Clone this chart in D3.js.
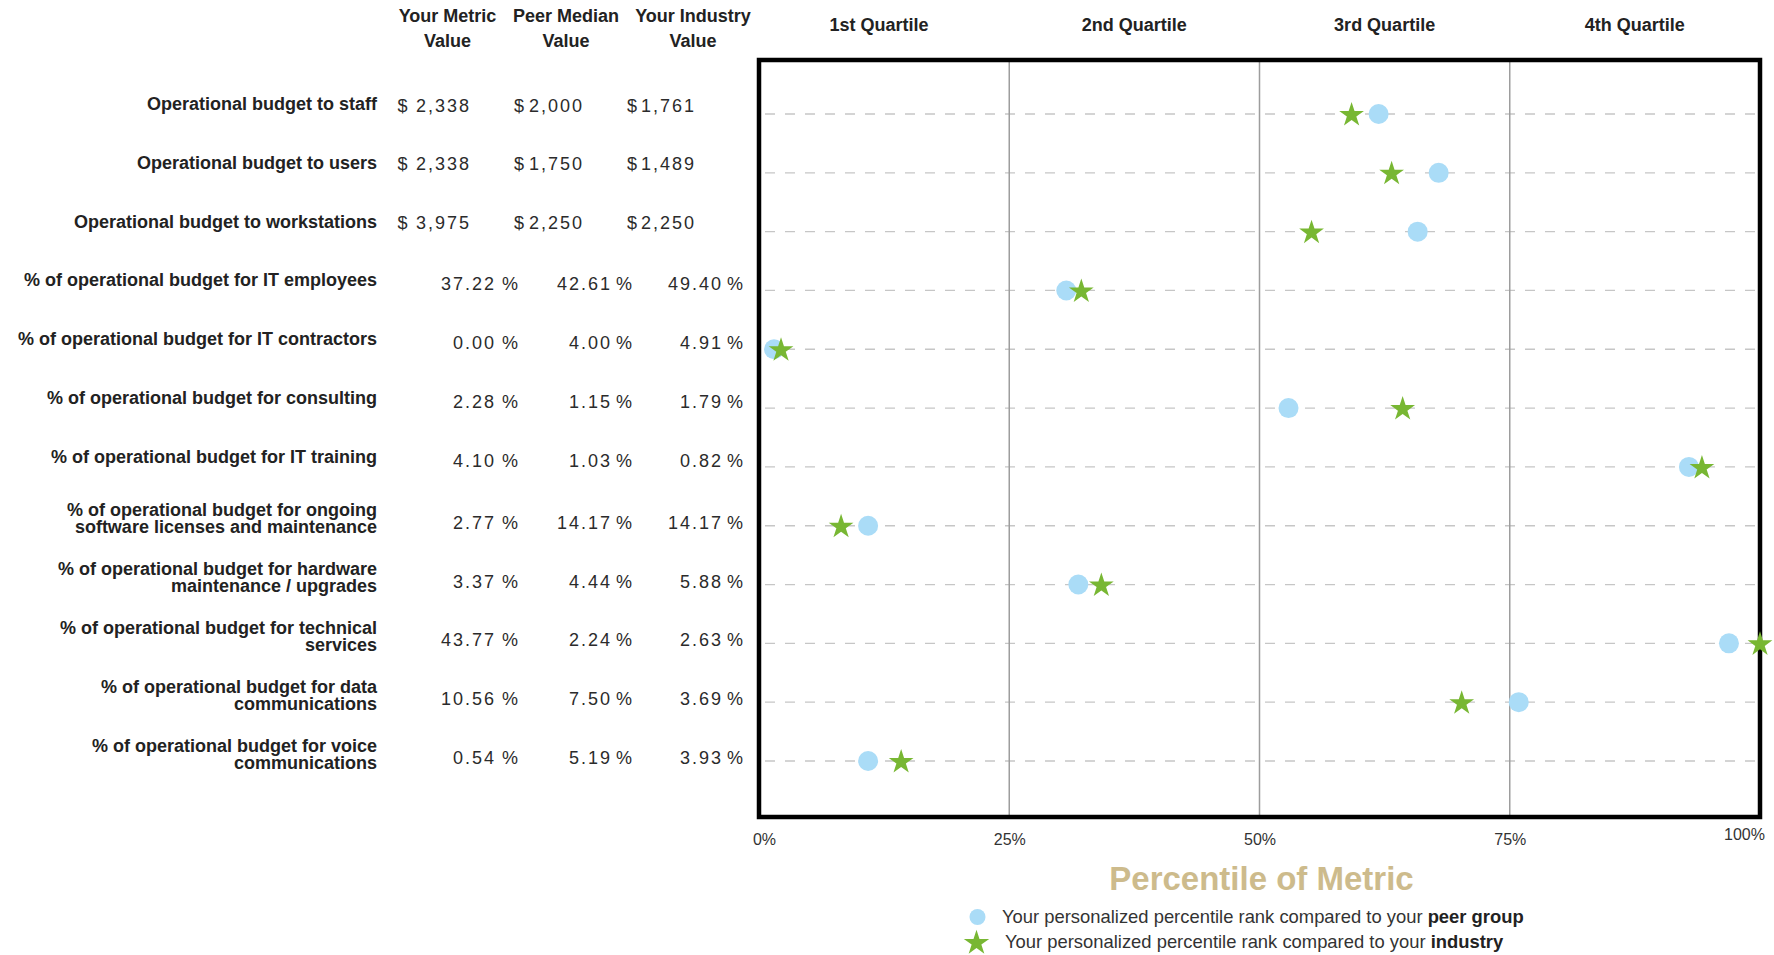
<!DOCTYPE html>
<html>
<head>
<meta charset="utf-8">
<script src="https://cdn.jsdelivr.net/npm/d3@7/dist/d3.min.js"></script>
<style>
  html, body { margin: 0; padding: 0; background: #ffffff; }
  svg { display: block; font-family: "Liberation Sans", Arial, Helvetica, sans-serif; }
</style>
</head>
<body>
<svg id="chart" width="1774" height="955"></svg>
<script>
// Metric names (line breaks mark wrapped labels)
const categories = [
  "Operational budget to staff",
  "Operational budget to users",
  "Operational budget to workstations",
  "% of operational budget for IT employees",
  "% of operational budget for IT contractors",
  "% of operational budget for consulting",
  "% of operational budget for IT training",
  "% of operational budget for ongoing\nsoftware licenses and maintenance",
  "% of operational budget for hardware\nmaintenance / upgrades",
  "% of operational budget for technical\nservices",
  "% of operational budget for data\ncommunications",
  "% of operational budget for voice\ncommunications"
];
const units = ["$", "$", "$", "%", "%", "%", "%", "%", "%", "%", "%", "%"];

// Table values
const yourMetricValues = [2338, 2338, 3975, 37.22, 0.00, 2.28, 4.10, 2.77, 3.37, 43.77, 10.56, 0.54];
const peerMedianValues = [2000, 1750, 2250, 42.61, 4.00, 1.15, 1.03, 14.17, 4.44, 2.24, 7.50, 5.19];
const industryValues   = [1761, 1489, 2250, 49.40, 4.91, 1.79, 0.82, 14.17, 5.88, 2.63, 3.69, 3.93];

// Percentile ranks (0-100)
const peerPercentile     = [61.9, 67.9, 65.8, 30.7, 1.5, 52.9, 92.9, 10.9, 31.9, 96.9, 75.9, 10.9];
const industryPercentile = [59.2, 63.2, 55.2, 32.2, 2.2, 64.3, 94.2, 8.2, 34.2, 100, 70.2, 14.2];

const columnHeaders = [["Your Metric", "Value"], ["Peer Median", "Value"], ["Your Industry", "Value"]];
const quartileLabels = ["1st Quartile", "2nd Quartile", "3rd Quartile", "4th Quartile"];
const tickValues = [0, 25, 50, 75, 100];
const gridValues = [25, 50, 75];

const svg = d3.select("#chart");
const FONT = '"Liberation Sans", Arial, Helvetica, sans-serif';

const x = d3.scaleLinear().domain([0, 100]).range([759, 1760]);
const y = d3.scalePoint().domain(d3.range(categories.length)).range([114, 761]);
const plotTop = 60, plotBottom = 817;

svg.append("rect").attr("width", 1774).attr("height", 955).attr("fill", "#ffffff");

// ---- Table columns: header centre, $ sign left edge, $ number right edge, % number right edge, % sign left edge
const columns = [
  { values: yourMetricValues, center: 447.5, dollarX: 397.5, dollarNumX: 471, pctNumX: 496, pctSignX: 502 },
  { values: peerMedianValues, center: 566,   dollarX: 514,   dollarNumX: 584, pctNumX: 612, pctSignX: 616 },
  { values: industryValues,   center: 693,   dollarX: 627,   dollarNumX: 696, pctNumX: 723, pctSignX: 727 }
];

// Column headers
const headerG = svg.append("g");
columns.forEach((c, i) => {
  const t = headerG.append("text")
    .attr("x", c.center).attr("y", 21.5)
    .attr("text-anchor", "middle")
    .attr("font-size", 18).attr("font-weight", "bold").attr("fill", "#222");
  t.append("tspan").attr("x", c.center).attr("y", 21.5).text(columnHeaders[i][0]);
  t.append("tspan").attr("x", c.center).attr("y", 46.5).text(columnHeaders[i][1]);
});

// Row labels
const labelG = svg.append("g");
categories.forEach((cat, i) => {
  const lines = cat.split("\n");
  const t = labelG.append("text")
    .attr("text-anchor", "end")
    .attr("font-size", 18).attr("font-weight", "bold").attr("fill", "#222");
  if (lines.length === 1) {
    t.append("tspan").attr("x", 377).attr("y", y(i) - 4).text(lines[0]);
  } else {
    t.append("tspan").attr("x", 377).attr("y", y(i) - 9.5).text(lines[0]);
    t.append("tspan").attr("x", 377).attr("y", y(i) + 7.5).text(lines[1]);
  }
});

// Table values
const fmtDollar = d3.format(",");
const fmtPct = d3.format(".2f");
const valueG = svg.append("g").attr("font-size", 18).attr("fill", "#2b2b2b");
columns.forEach(c => {
  c.values.forEach((v, i) => {
    if (units[i] === "$") {
      const yy = y(i) - 2.5;
      valueG.append("text").attr("x", c.dollarX).attr("y", yy)
        .attr("text-anchor", "start").text("$");
      valueG.append("text").attr("x", c.dollarNumX).attr("y", yy)
        .attr("text-anchor", "end").attr("letter-spacing", 2).text(fmtDollar(v));
    } else {
      const yy = y(i) + (categories[i].includes("\n") ? 3 : 0);
      valueG.append("text").attr("x", c.pctNumX).attr("y", yy)
        .attr("text-anchor", "end").attr("letter-spacing", 2).text(fmtPct(v));
      valueG.append("text").attr("x", c.pctSignX).attr("y", yy)
        .attr("text-anchor", "start").text("%");
    }
  });
});

// ---- Plot area
// Quartile headings
svg.append("g").selectAll("text")
  .data(quartileLabels)
  .join("text")
  .attr("x", (d, i) => x(12.5 + 25 * i) - (i === 0 ? 5 : 0))
  .attr("y", 31)
  .attr("text-anchor", "middle")
  .attr("font-size", 18).attr("font-weight", "bold").attr("fill", "#222")
  .text(d => d);

// Dashed row guides
svg.append("g").selectAll("line")
  .data(d3.range(categories.length))
  .join("line")
  .attr("x1", x(0) + 6).attr("x2", x(100) - 2)
  .attr("y1", d => y(d)).attr("y2", d => y(d))
  .attr("stroke", "#c6c6c6").attr("stroke-width", 1.3)
  .attr("stroke-dasharray", "10,10");

// Quartile dividers
svg.append("g").selectAll("line")
  .data(gridValues)
  .join("line")
  .attr("x1", d => x(d)).attr("x2", d => x(d))
  .attr("y1", plotTop).attr("y2", plotBottom)
  .attr("stroke", "#9d9d9d").attr("stroke-width", 1.5);

// Frame
svg.append("rect")
  .attr("x", x(0)).attr("y", plotTop)
  .attr("width", x(100) - x(0)).attr("height", plotBottom - plotTop)
  .attr("fill", "none").attr("stroke", "#000").attr("stroke-width", 4.5);

// Percent axis
const axis = d3.axisBottom(x)
  .tickValues(tickValues)
  .tickFormat(d => d + "%")
  .tickSize(0)
  .tickPadding(14);
const axisG = svg.append("g").attr("transform", `translate(0,${820})`).call(axis);
axisG.select(".domain").remove();
axisG.selectAll("text")
  .attr("font-family", FONT).attr("font-size", 16).attr("fill", "#333")
  .attr("dx", d => d === 0 ? 5 : (d === 100 ? -16 : 0))
  .attr("transform", d => d === 100 ? "translate(0,-5)" : null);

// Markers
const peerColor = "#aadcf7";
const industryColor = "#78b733";
const star = d3.symbol().type(d3.symbolStar).size(190);

svg.append("g").selectAll("circle")
  .data(peerPercentile)
  .join("circle")
  .attr("cx", d => x(d))
  .attr("cy", (d, i) => y(i))
  .attr("r", 10)
  .attr("fill", peerColor);

svg.append("g").selectAll("path")
  .data(industryPercentile)
  .join("path")
  .attr("d", star)
  .attr("transform", (d, i) => `translate(${x(d)},${y(i) + 1})`)
  .attr("fill", industryColor);

// Axis title
svg.append("text")
  .attr("x", (x(0) + x(100)) / 2 + 2).attr("y", 890)
  .attr("text-anchor", "middle")
  .attr("font-size", 33).attr("font-weight", "bold").attr("fill", "#cdbb8c")
  .text("Percentile of Metric");

// Legend
const legend = svg.append("g").attr("font-size", 18.4).attr("fill", "#333");
legend.append("circle").attr("cx", 977.5).attr("cy", 917).attr("r", 8).attr("fill", peerColor);
const l1 = legend.append("text").attr("x", 1002).attr("y", 923);
l1.append("tspan").text("Your personalized percentile rank compared to your ");
l1.append("tspan").attr("font-weight", "bold").attr("fill", "#222").text("peer group");

legend.append("path")
  .attr("d", d3.symbol().type(d3.symbolStar).size(200)())
  .attr("transform", "translate(976.5,943)")
  .attr("fill", industryColor);
const l2 = legend.append("text").attr("x", 1005).attr("y", 948);
l2.append("tspan").text("Your personalized percentile rank compared to your ");
l2.append("tspan").attr("font-weight", "bold").attr("fill", "#222").text("industry");
</script>
</body>
</html>
